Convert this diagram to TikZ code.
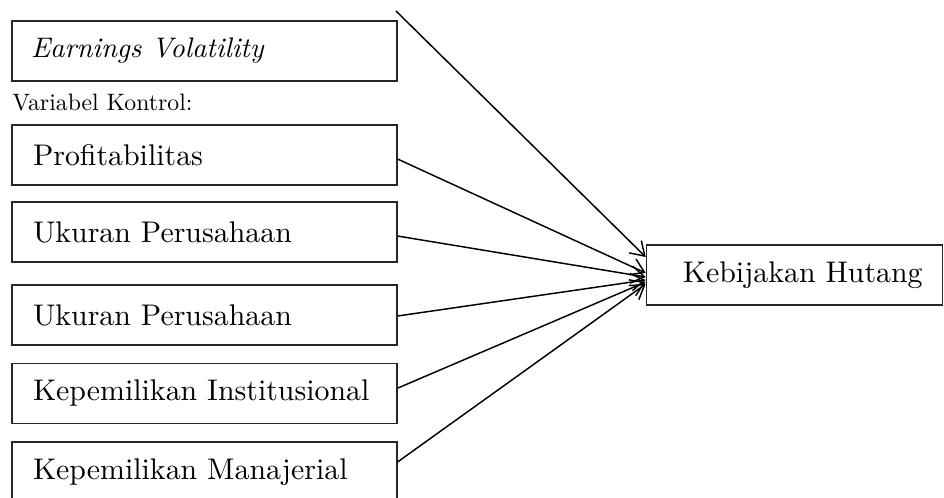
\documentclass[tikz,border=0pt]{standalone}
\usepackage{fontspec}
\setmainfont{lmroman10-regular}[Extension=.otf, ItalicFont=lmroman10-italic, BoldFont=lmroman10-bold]
\usetikzlibrary{arrows.meta}
\begin{document}
\begin{tikzpicture}[x=0.75pt,y=-0.75pt,
  box/.style={draw=black!85,line width=0.8pt,minimum height=45pt,inner ysep=0pt,
    inner xsep=15.75pt,text width=257.25pt,align=left,font=\fontsize{22.4}{25}\selectfont},
  target/.style={draw=black!85,line width=0.8pt,minimum height=45pt,minimum width=222pt,
    inner sep=0pt,font=\fontsize{22.4}{25}\selectfont},
  conn/.style={line width=1.1pt,-{Straight Barb[length=10pt,width=13pt,line width=1.1pt]}}]
\useasboundingbox (0,0) rectangle (944,497);
\clip (0,0) rectangle (944,497);
\node[box] (ev) at (204.5,51) {\fontsize{21.2}{25}\selectfont\itshape\hspace*{-1.5pt}Earnings Volatility};
\node[anchor=base west,inner sep=0pt,font=\fontsize{17.8}{20}\selectfont] (vk) at (12,110) {Variabel Kontrol:};
\node[box] (pr) at (204.5,155) {Profitabilitas};
\node[box] (u1) at (204.5,232) {Ukuran Perusahaan};
\node[box] (u2) at (204.5,315) {Ukuran Perusahaan};
\node[box] (ki) at (204.5,393.5) {Kepemilikan Institusional};
\node[box] (km) at (204.5,472) {Kepemilikan Manajerial};
\node[target] (kh) at (794.25,275) {\hspace*{12.75pt}Kebijakan Hutang};
\coordinate (evs) at (396,11);
\draw[conn] (evs) -- ([yshift=13.5pt]kh.west);
\draw[conn] ([yshift=-3pt]pr.east) -- ([yshift=1.5pt]kh.west);
\draw[conn] ([yshift=-3pt]u1.east) -- ([yshift=-1.5pt]kh.west);
\draw[conn] ([yshift=-0.75pt]u2.east) -- ([yshift=-3.75pt]kh.west);
\draw[conn] ([yshift=4pt]ki.east) -- ([yshift=-5.25pt]kh.west);
\draw[conn] ([yshift=7.5pt]km.east) -- ([yshift=-6.75pt]kh.west);
\end{tikzpicture}
\end{document}
